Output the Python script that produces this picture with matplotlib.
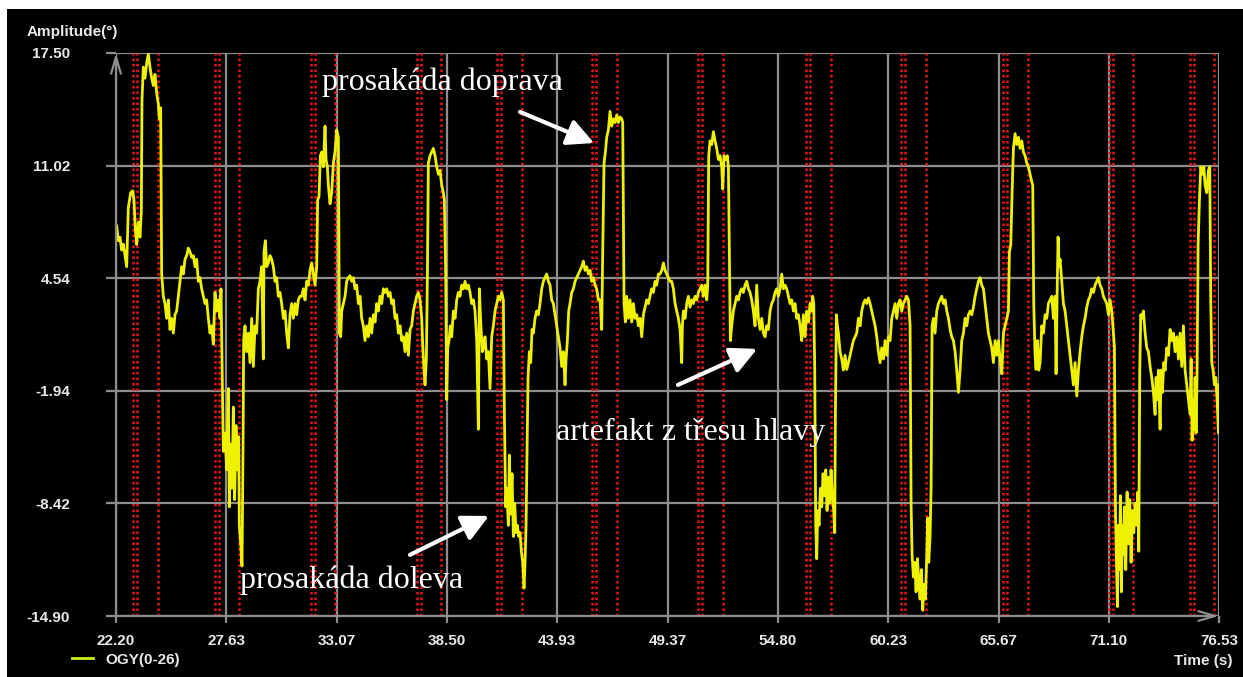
import matplotlib
matplotlib.use('Agg')
import matplotlib.pyplot as plt
from matplotlib.lines import Line2D
from matplotlib.patches import Rectangle

# OGY trace, (time s, amplitude deg), split by screen part
seg_a = [(22.232, 7.55), (22.315, 6.70), (22.397, 6.90), (22.479, 6.16), (22.561, 6.50),
         (22.643, 5.84), (22.725, 5.20), (22.807, 8.60), (22.922, 9.46), (23.021, 9.57),
         (23.086, 9.04), (23.152, 7.33), (23.218, 6.48), (23.300, 7.76), (23.382, 6.90),
         (23.447, 8.40), (23.480, 14.80), (23.546, 16.69), (23.628, 16.05), (23.710, 16.90),
         (23.792, 17.44), (23.874, 16.69), (23.957, 16.05), (24.039, 15.63), (24.121, 16.27),
         (24.203, 15.20), (24.285, 14.56), (24.334, 13.71), (24.400, 14.35), (24.449, 4.78),
         (24.531, 3.50), (24.613, 3.08), (24.695, 2.23), (24.778, 3.29), (24.860, 1.59),
         (24.942, 2.23), (25.024, 1.38), (25.106, 2.44), (25.188, 2.65), (25.270, 3.50),
         (25.352, 4.36), (25.434, 5.20), (25.516, 4.78), (25.599, 5.63), (25.681, 5.84),
         (25.763, 6.27), (25.845, 6.06), (25.927, 5.74), (26.009, 5.84), (26.091, 5.20),
         (26.173, 5.63), (26.255, 4.36), (26.337, 4.57), (26.420, 3.93), (26.502, 3.50),
         (26.584, 3.08), (26.666, 3.29), (26.748, 2.23), (26.830, 1.38), (26.912, 1.80),
         (26.994, 0.74), (27.076, 3.72), (27.158, 2.65), (27.240, 3.29), (27.323, 2.23),
         (27.372, 3.93), (27.421, -0.11), (27.487, -5.43), (27.569, -4.37), (27.651, -6.49),
         (27.733, -1.81), (27.782, -8.62), (27.848, -5.00), (27.914, -7.55), (27.980, -2.88),
         (28.045, -8.20), (28.111, -3.94), (28.177, -6.49), (28.242, -4.58), (28.275, -9.68),
         (28.341, -10.75), (28.406, -12.02), (28.456, -5.43), (28.489, 1.00), (28.554, 1.80),
         (28.636, 0.31), (28.718, 1.38), (28.800, -0.32), (28.883, 2.23), (28.965, -0.54),
         (29.047, 1.80), (29.129, 1.38), (29.211, 3.93), (29.293, 4.36), (29.375, 5.20),
         (29.457, -0.11), (29.490, 6.06), (29.556, 6.70), (29.622, 5.20), (29.704, 5.42),
         (29.786, 5.84), (29.868, 5.63), (29.950, 5.20), (30.032, 4.36), (30.114, 4.57),
         (30.196, 3.50), (30.278, 3.72), (30.360, 3.08), (30.443, 2.23), (30.525, 2.65),
         (30.607, 1.38), (30.689, 0.53), (30.771, 2.44), (30.853, 3.08), (30.935, 2.23),
         (31.017, 3.08), (31.099, 2.44), (31.181, 3.29), (31.263, 3.50)]

seg_b = [(31.346, 3.50), (31.429, 3.93), (31.511, 3.29), (31.593, 4.36), (31.675, 4.14),
         (31.757, 4.99), (31.839, 5.42), (31.921, 4.78), (32.003, 4.14), (32.085, 5.20),
         (32.135, 9.04), (32.200, 9.25), (32.266, 11.59), (32.332, 11.80), (32.414, 10.95),
         (32.496, 13.29), (32.545, 11.37), (32.611, 10.95), (32.660, 9.89), (32.742, 8.82),
         (32.824, 9.46), (32.906, 11.16), (32.988, 11.80), (33.071, 13.08), (33.153, 12.65),
         (33.202, 1.38), (33.268, 1.17), (33.317, 2.65), (33.399, 3.08), (33.481, 3.50),
         (33.563, 4.36), (33.645, 4.57), (33.727, 4.68), (33.809, 4.36), (33.892, 4.57),
         (33.974, 3.93), (34.056, 4.14), (34.138, 3.08), (34.220, 3.50), (34.302, 2.23),
         (34.384, 1.80), (34.466, 0.95), (34.548, 1.80), (34.630, 1.17), (34.713, 2.23),
         (34.795, 1.38), (34.877, 2.44), (34.959, 2.02), (35.041, 3.08), (35.123, 2.65),
         (35.205, 3.50), (35.287, 3.08), (35.369, 3.93), (35.451, 3.72), (35.534, 3.93),
         (35.616, 3.50), (35.698, 3.72), (35.780, 3.08), (35.862, 3.29), (35.944, 2.23),
         (36.026, 2.44), (36.108, 1.38), (36.190, 1.80), (36.272, 0.95), (36.355, 1.17),
         (36.437, 0.31), (36.519, 1.38), (36.601, 0.10), (36.683, 1.59), (36.765, 1.80),
         (36.847, 2.65), (36.929, 3.08), (37.011, 3.50), (37.093, 3.72), (37.176, 3.29),
         (37.258, 2.23), (37.307, 0.74), (37.373, -0.75), (37.422, -1.60), (37.488, -0.11),
         (37.537, 4.57), (37.586, 11.16), (37.668, 11.59), (37.750, 11.80), (37.832, 12.01),
         (37.915, 11.59), (37.997, 10.95), (38.079, 10.52), (38.161, 10.74), (38.243, 9.89),
         (38.325, 9.46), (38.374, 9.04), (38.440, 4.78), (38.489, -2.45), (38.539, 0.53),
         (38.604, 0.95), (38.670, 1.80), (38.736, 1.17), (38.818, 2.65), (38.900, 2.23),
         (38.982, 3.29), (39.064, 3.72), (39.146, 3.50), (39.228, 4.14), (39.310, 3.93),
         (39.392, 4.36), (39.474, 3.93), (39.557, 4.14), (39.639, 3.72), (39.721, 3.08),
         (39.803, 3.29), (39.885, 2.65), (39.967, 0.95), (40.049, -4.15), (40.098, 3.93),
         (40.164, 2.02), (40.246, 0.31)]

seg_c = [(40.295, 0.53), (40.377, 1.17), (40.459, -0.11), (40.542, 0.31), (40.624, -1.81),
         (40.706, 1.17), (40.788, 1.80), (40.870, 2.65), (40.952, 3.08), (41.034, 3.50),
         (41.116, 3.29), (41.198, 3.72), (41.280, 3.29), (41.330, -3.30), (41.395, -8.62),
         (41.445, -7.55), (41.527, -9.68), (41.576, -5.64), (41.642, -9.04), (41.707, -6.71),
         (41.773, -10.32), (41.839, -8.41), (41.904, -10.10), (41.970, -9.68), (42.036, -10.32),
         (42.101, -10.10), (42.167, -11.17), (42.233, -11.81), (42.298, -13.30), (42.348, -11.81),
         (42.397, -9.68), (42.446, -5.43), (42.496, -1.17), (42.561, 0.31), (42.627, -0.32),
         (42.693, 1.59), (42.758, 1.38), (42.840, 2.23), (42.922, 2.65), (43.005, 2.44),
         (43.087, 3.08), (43.169, 3.93), (43.251, 4.36), (43.333, 4.57), (43.415, 4.78),
         (43.497, 4.36), (43.579, 4.14), (43.661, 3.29), (43.743, 3.08), (43.826, 2.44),
         (43.908, 1.80), (43.990, 1.17), (44.072, 0.53), (44.154, -0.54), (44.236, 0.31),
         (44.318, -1.60), (44.367, -0.11), (44.433, 0.95), (44.499, 2.65), (44.564, 3.08),
         (44.647, 3.72), (44.729, 3.93), (44.811, 4.36), (44.893, 4.57), (44.975, 4.78),
         (45.057, 4.99), (45.139, 5.20), (45.221, 5.52), (45.303, 4.99), (45.385, 5.20),
         (45.468, 4.78), (45.550, 4.99), (45.632, 4.36), (45.714, 4.57), (45.796, 4.14),
         (45.878, 3.93), (45.960, 3.29), (46.042, 3.29), (46.124, 1.59), (46.174, 6.06),
         (46.239, 11.16), (46.305, 11.80), (46.371, 12.65), (46.453, 13.08), (46.535, 14.14),
         (46.617, 13.29), (46.699, 13.71), (46.781, 13.50), (46.863, 13.93), (46.945, 13.50),
         (47.028, 13.82), (47.110, 13.71), (47.159, 13.50), (47.225, 3.08), (47.290, 2.02),
         (47.356, 3.50), (47.438, 2.23), (47.520, 3.29), (47.602, 2.02), (47.684, 3.08),
         (47.766, 2.23), (47.849, 2.44), (47.931, 1.80), (48.013, 2.23), (48.095, 1.17),
         (48.177, 2.44), (48.259, 2.87), (48.341, 3.29), (48.423, 3.08), (48.505, 3.50),
         (48.587, 3.93), (48.670, 3.72), (48.752, 4.36), (48.834, 4.14), (48.916, 4.78),
         (48.998, 4.78), (49.080, 4.99), (49.162, 5.42), (49.244, 4.99), (49.326, 4.78),
         (49.408, 4.57), (49.490, 4.36)]

seg_d = [(49.572, 4.36), (49.655, 3.93), (49.737, 3.08), (49.819, 2.65), (49.901, 2.23),
         (49.983, 1.59), (50.065, -0.32), (50.098, 1.80), (50.147, 2.65), (50.229, 2.23),
         (50.311, 3.08), (50.393, 3.50), (50.476, 2.87), (50.558, 3.29), (50.640, 3.08),
         (50.722, 3.50), (50.804, 3.29), (50.886, 3.72), (50.968, 3.93), (51.050, 4.14),
         (51.132, 3.50), (51.214, 4.14), (51.297, 3.29), (51.346, 4.14), (51.395, 11.59),
         (51.461, 12.44), (51.543, 12.23), (51.625, 12.97), (51.707, 12.44), (51.789, 12.01),
         (51.871, 11.37), (51.953, 11.59), (52.035, 10.95), (52.085, 9.67), (52.150, 11.59),
         (52.232, 11.37), (52.315, 11.59), (52.364, 10.95), (52.413, 6.06), (52.462, 0.95),
         (52.528, 1.80), (52.610, 2.65), (52.692, 3.08), (52.774, 3.50), (52.856, 3.29),
         (52.938, 3.72), (53.020, 3.93), (53.103, 3.72), (53.185, 4.14), (53.267, 4.36),
         (53.349, 3.93), (53.431, 3.72), (53.513, 3.29), (53.595, 2.65), (53.677, 1.80),
         (53.759, 4.14), (53.842, 2.23), (53.924, 1.59), (54.006, 2.23), (54.088, 1.38),
         (54.170, 1.17), (54.252, 1.80), (54.334, 1.59), (54.416, 2.65), (54.498, 3.08),
         (54.581, 3.29), (54.663, 3.72), (54.745, 3.93), (54.827, 3.50), (54.909, 3.93),
         (54.991, 4.78), (55.073, 3.93), (55.155, 4.14), (55.237, 3.93), (55.319, 3.50),
         (55.402, 3.08), (55.484, 3.29), (55.566, 2.65), (55.648, 3.08), (55.730, 2.23),
         (55.812, 2.44), (55.894, 1.80), (55.976, 0.95), (56.058, 2.44), (56.140, 1.17),
         (56.223, 2.65), (56.305, 2.02), (56.387, 3.08), (56.469, 2.65), (56.518, 3.50),
         (56.567, 3.08), (56.617, -0.71), (56.666, -9.68), (56.715, -11.60), (56.764, -8.83),
         (56.830, -9.68), (56.896, -7.55), (56.962, -8.62), (57.027, -6.71), (57.093, -7.98),
         (57.159, -6.49), (57.224, -8.83), (57.290, -6.92), (57.356, -8.41), (57.421, -6.49),
         (57.487, -7.98), (57.553, -8.83), (57.602, -10.11), (57.635, -3.30), (57.684, 2.44),
         (57.733, 1.80), (57.783, 1.38), (57.865, 0.31), (57.947, -0.11), (58.029, -0.75),
         (58.111, 0.10), (58.193, -0.71), (58.275, -0.32), (58.357, 0.10), (58.439, 0.53),
         (58.521, 0.95), (58.603, 1.17)]

seg_e = [(58.686, 1.38), (58.769, 2.23), (58.851, 1.80), (58.933, 2.65), (59.015, 3.08),
         (59.097, 3.29), (59.179, 3.08), (59.261, 3.40), (59.343, 3.08), (59.425, 2.65),
         (59.507, 2.23), (59.590, 1.80), (59.672, 1.17), (59.754, 0.31), (59.836, -0.32),
         (59.918, 0.53), (60.000, -0.11), (60.082, 0.95), (60.164, 0.10), (60.246, 1.17),
         (60.328, 0.95), (60.411, 2.23), (60.493, 2.65), (60.575, 3.08), (60.657, 2.23),
         (60.739, 3.08), (60.821, 3.29), (60.903, 2.65), (60.985, 3.08), (61.067, 3.29),
         (61.149, 3.50), (61.232, 3.29), (61.314, 1.80), (61.363, -8.41), (61.412, -11.38),
         (61.478, -12.66), (61.544, -11.81), (61.609, -13.51), (61.675, -11.60), (61.741, -12.87),
         (61.806, -13.93), (61.872, -12.23), (61.938, -14.57), (62.003, -13.08), (62.069, -13.93),
         (62.135, -11.38), (62.184, -9.26), (62.233, -11.81), (62.299, -10.32), (62.348, -7.55),
         (62.397, 1.80), (62.463, 2.23), (62.545, 1.38), (62.627, 2.65), (62.709, 3.08),
         (62.791, 3.29), (62.874, 3.50), (62.956, 3.08), (63.038, 3.29), (63.120, 2.65),
         (63.202, 2.23), (63.284, 1.59), (63.366, 1.17), (63.448, 0.95), (63.530, 0.31),
         (63.612, -0.75), (63.695, -2.03), (63.777, -0.75), (63.859, 0.95), (63.941, 1.38),
         (64.023, 2.23), (64.105, 1.80), (64.187, 2.44), (64.269, 2.65), (64.351, 2.44),
         (64.433, 2.87), (64.516, 3.50), (64.598, 3.93), (64.680, 4.36), (64.762, 4.57),
         (64.844, 4.14), (64.926, 3.93), (65.008, 3.08), (65.090, 2.23), (65.172, 1.38),
         (65.254, 0.95), (65.337, 0.53), (65.419, -0.32), (65.501, 0.95), (65.583, 0.10),
         (65.665, 0.95), (65.747, -0.11), (65.829, -0.96), (65.911, 1.38), (65.993, 1.80),
         (66.075, 2.23), (66.158, 2.65), (66.207, 6.06), (66.273, 6.48), (66.338, 9.46),
         (66.404, 12.01), (66.486, 12.86), (66.568, 12.23), (66.650, 12.65), (66.732, 12.01),
         (66.814, 12.44), (66.896, 11.80), (66.979, 11.59), (67.061, 11.16), (67.143, 10.95),
         (67.225, 10.52), (67.307, 10.10), (67.356, 9.89), (67.405, 3.08), (67.471, 0.10),
         (67.520, -0.71), (67.586, 0.95), (67.652, -0.75), (67.717, -0.32)]

seg_f = [(67.799, 1.80), (67.882, 1.38), (67.964, 2.44), (68.046, 2.23), (68.128, 3.08),
         (68.210, 3.29), (68.292, 3.50), (68.374, 2.23), (68.456, 3.50), (68.505, -0.96),
         (68.555, 3.50), (68.604, 6.91), (68.653, 5.20), (68.703, 5.63), (68.785, 4.36),
         (68.867, 3.08), (68.949, 2.65), (69.031, 1.80), (69.113, 0.95), (69.195, 0.10),
         (69.277, -0.75), (69.359, -1.60), (69.441, -0.32), (69.524, -2.24), (69.606, -0.75),
         (69.688, 0.31), (69.770, 1.17), (69.852, 1.80), (69.934, 2.23), (70.016, 2.87),
         (70.098, 3.29), (70.180, 3.50), (70.262, 3.93), (70.345, 3.72), (70.427, 4.14),
         (70.509, 4.36), (70.591, 4.57), (70.673, 4.14), (70.755, 3.93), (70.837, 3.50),
         (70.919, 3.29), (71.001, 3.08), (71.083, 2.44), (71.166, 3.29), (71.248, 2.65),
         (71.330, 1.38), (71.379, 0.53), (71.428, -8.62), (71.478, -11.81), (71.527, -14.36),
         (71.576, -9.68), (71.625, -12.23), (71.675, -7.98), (71.724, -13.51), (71.773, -9.68),
         (71.822, -11.38), (71.871, -8.62), (71.937, -12.23), (72.003, -7.77), (72.069, -10.75),
         (72.134, -8.20), (72.200, -11.81), (72.266, -8.83), (72.331, -10.11), (72.397, -8.41),
         (72.463, -9.68), (72.529, -7.77), (72.578, -11.17), (72.627, -0.75), (72.676, 2.44),
         (72.726, 2.23), (72.808, 2.65), (72.890, 1.38), (72.972, 0.53), (73.054, 0.31),
         (73.136, -0.54), (73.218, -1.17), (73.300, -2.03), (73.382, -3.30), (73.432, -1.17),
         (73.481, -2.45), (73.547, -0.75), (73.629, -4.15), (73.678, -0.75), (73.744, -2.03),
         (73.809, -0.32), (73.875, -0.75), (73.957, 0.53), (74.039, 0.10), (74.121, 1.59),
         (74.203, 0.95), (74.285, 1.38), (74.367, 0.31), (74.450, 1.17), (74.532, -0.11),
         (74.614, 1.38), (74.696, -0.54), (74.778, 1.80), (74.860, -0.75), (74.942, -1.60),
         (75.024, -2.45), (75.106, -3.30), (75.156, -0.11), (75.205, -4.79), (75.254, -2.45),
         (75.304, -4.15), (75.353, -1.17), (75.402, -4.37), (75.451, -0.75), (75.501, 6.48),
         (75.566, 9.04), (75.632, 10.95), (75.714, 10.52), (75.780, 10.95), (75.846, 9.89),
         (75.928, 9.46), (76.010, 10.74), (76.075, 10.95), (76.125, 3.08), (76.174, -0.32),
         (76.240, -0.75), (76.305, -1.60), (76.371, -1.17), (76.437, -2.45), (76.502, -4.37),
         (76.535, -1.60)]

# red dotted saccade markers (s)
marks_s = [23.05, 23.25, 24.28, 27.08, 27.27, 28.27, 31.79, 31.99, 32.99,
           37.01, 37.21, 38.21, 40.98, 41.18, 42.20, 45.66, 45.86, 46.87,
           50.86, 51.05, 52.10, 56.20, 56.40, 57.41, 60.87, 61.07, 62.10,
           65.88, 66.08, 67.11, 71.12, 71.32, 72.30, 75.11, 75.30, 76.30]

xticks = [22.20, 27.63, 33.07, 38.50, 43.93, 49.37, 54.80, 60.23, 65.67, 71.10, 76.53]
yticks = [17.50, 11.02, 4.54, -1.94, -8.42, -14.90]

# annotations: text, text pos, arrow tail, arrow head
notes = [('prosakáda doprava', (32.35, 15.83), (42.10, 14.11), (45.75, 12.32)),
         ('prosakáda doleva', (28.31, -12.82), (36.68, -11.38), (40.57, -9.14)),
         ('artefakt z třesu hlavy', (43.87, -4.36), (49.88, -1.60), (53.78, 0.47))]

W, H = 1243, 677
fig = plt.figure(figsize=(W / 100, H / 100), dpi=100, facecolor='white')
# black screen area (screenshot has a thin white margin top/left)
fig.patches.append(Rectangle((7 / W, 0), 1, 1 - 9 / H, transform=fig.transFigure,
                             facecolor='black', edgecolor='none', zorder=-10))

ax = fig.add_axes([116 / W, 1 - 616 / H, (1219 - 116) / W, (616 - 53) / H])
ax.set_facecolor('black')
grid_c = '#8e8e8e'
lab_c = '#e8e8e8'

for y in yticks:
    ax.axhline(y, color=grid_c, lw=1.6, zorder=1)
for x in xticks:
    ax.axvline(x, color=grid_c, lw=1.6, zorder=1)
for m in marks_s:
    ax.axvline(m, color='#e8141c', lw=1.8, ls=(0, (1, 1.2)), zorder=2)

allpts = seg_a + seg_b + seg_c + seg_d + seg_e + seg_f
t, a = zip(*allpts)
ax.plot(t, a, color='#eef200', lw=2.0, zorder=3)

ax.set_xlim(xticks[0], xticks[-1])
ax.set_ylim(yticks[-1], yticks[0])
for s in ax.spines.values():
    s.set_visible(False)
ax.set_xticks(xticks)
ax.set_xticklabels(['%.2f' % v for v in xticks])
ax.set_yticks(yticks)
ax.set_yticklabels(['%.2f' % v for v in yticks])
ax.tick_params(axis='y', length=7, width=1.6, color=grid_c, pad=26,
               labelcolor=lab_c, labelsize=11)
ax.tick_params(axis='x', length=5, width=1.6, color=grid_c, pad=8,
               labelcolor=lab_c, labelsize=11)
for lab in ax.get_yticklabels() + ax.get_xticklabels():
    lab.set_family('Liberation Sans')
    lab.set_weight('bold')

# axis arrows
ax.annotate('', xy=(0, 1), xytext=(0, 0), xycoords='axes fraction',
            arrowprops=dict(arrowstyle='->,head_length=1.2,head_width=0.35',
                            color=grid_c, lw=1.6, shrinkA=0, shrinkB=0))
ax.annotate('', xy=(1, 0), xytext=(0, 0), xycoords='axes fraction',
            arrowprops=dict(arrowstyle='->,head_length=1.2,head_width=0.35',
                            color=grid_c, lw=1.6, shrinkA=0, shrinkB=0))

for txt, pos, tail, head in notes:
    ax.text(pos[0], pos[1], txt, color='white', fontsize=23, family='Liberation Serif',
            ha='left', va='center', zorder=5)
    ax.annotate('', xy=head, xytext=tail,
                arrowprops=dict(arrowstyle='-|>,head_length=0.8,head_width=0.4',
                                color='white', lw=3, mutation_scale=20,
                                shrinkA=0, shrinkB=0), zorder=5)

fig.text(27 / W, 1 - 32 / H, 'Amplitude(°)', color=lab_c, fontsize=11,
         family='Liberation Sans', weight='bold', ha='left', va='center')
fig.text(1232 / W, 1 - 661 / H, 'Time (s)', color=lab_c, fontsize=11,
         family='Liberation Sans', weight='bold', ha='right', va='center')
fig.lines.append(Line2D([72 / W, 93 / W], [1 - 658 / H, 1 - 658 / H],
                        transform=fig.transFigure, color='#c8f020', lw=2))
fig.text(105 / W, 1 - 660 / H, 'OGY(0-26)', color=lab_c, fontsize=11,
         family='Liberation Sans', weight='bold', ha='left', va='center')

fig.savefig('out.png', dpi=100, facecolor=fig.get_facecolor())
